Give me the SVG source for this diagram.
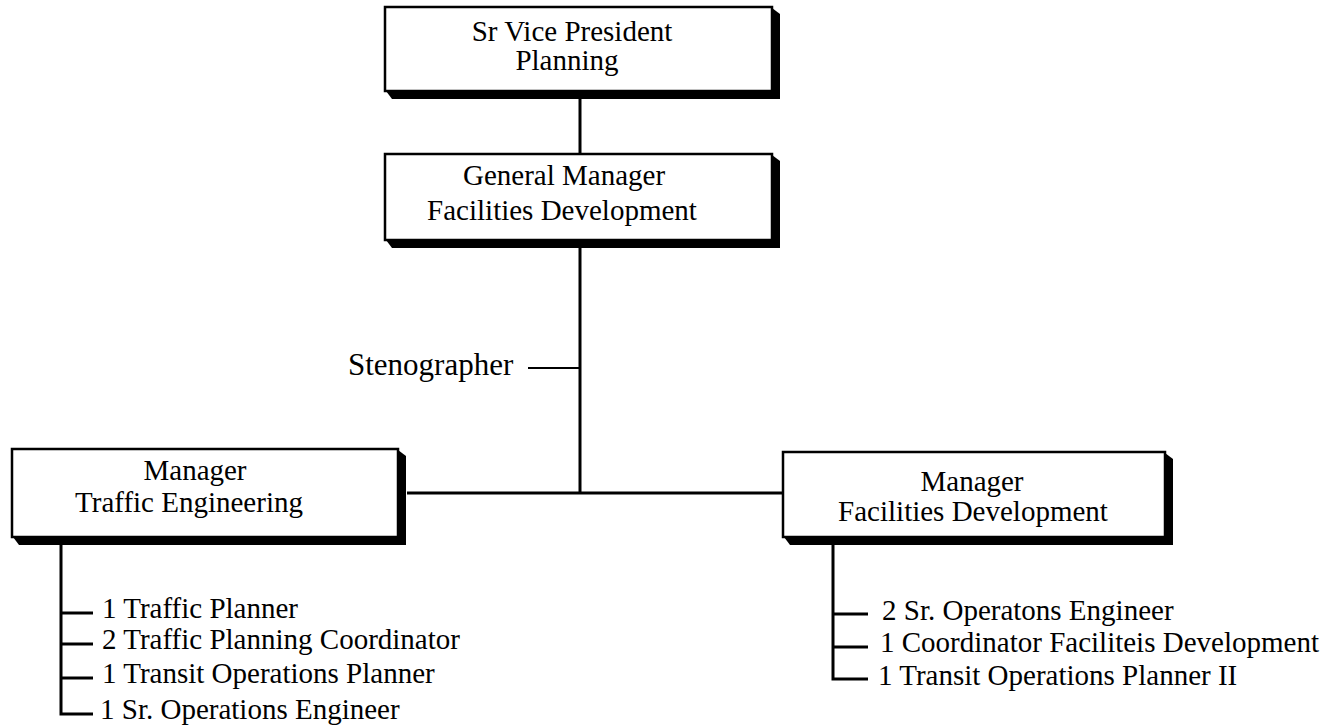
<svg xmlns="http://www.w3.org/2000/svg" width="1334" height="726" viewBox="0 0 1334 726">
<style>
.box{fill:#fff;stroke:#000;stroke-width:2.5}
.shadow{fill:#000;stroke:none}
.conn{fill:none;stroke:#000;stroke-width:3}
.thin{fill:none;stroke:#000;stroke-width:2}
text{font-family:"Liberation Serif","Times New Roman",serif;font-size:29px;fill:#000}
.c{text-anchor:middle}
</style>
<rect width="1334" height="726" fill="#fff"/>
<g id="connectors">
<line class="conn" x1="580" y1="99" x2="580" y2="155"/>
<line class="conn" x1="580" y1="248" x2="580" y2="493"/>
<line class="thin" x1="528" y1="368" x2="580" y2="368"/>
<line class="conn" x1="407" y1="493" x2="783" y2="493"/>
<polyline class="conn" points="61,545 61,714 93,714"/>
<line class="conn" x1="61" y1="613" x2="93" y2="613"/>
<line class="conn" x1="61" y1="644" x2="93" y2="644"/>
<line class="conn" x1="61" y1="678" x2="93" y2="678"/>
<polyline class="conn" points="833,545 833,679 868,679"/>
<line class="conn" x1="833" y1="614" x2="868" y2="614"/>
<line class="conn" x1="833" y1="647" x2="868" y2="647"/>
</g>
<g id="svp">
<polygon class="shadow" points="772,8 780,14 780,99 392,99 386,91"/>
<rect class="box" x="385" y="7" width="387" height="84"/>
<text class="c" x="572" y="41">Sr Vice President</text>
<text class="c" x="567" y="70">Planning</text>
</g>
<g id="gm">
<polygon class="shadow" points="772,155 780,161 780,248 392,248 386,240"/>
<rect class="box" x="385" y="154" width="387" height="86"/>
<text class="c" x="564" y="185">General Manager</text>
<text class="c" x="562" y="220">Facilities Development</text>
</g>
<g id="steno">
<text x="348" y="375" style="font-size:31px">Stenographer</text>
</g>
<g id="mgr-traffic">
<polygon class="shadow" points="398,450 406,456 406,545 19,545 13,537"/>
<rect class="box" x="12" y="449" width="386" height="88"/>
<text class="c" x="195" y="480">Manager</text>
<text class="c" x="189" y="512">Traffic Engineering</text>
</g>
<g id="mgr-facilities">
<polygon class="shadow" points="1165,453 1173,459 1173,545 790,545 784,537"/>
<rect class="box" x="783" y="452" width="382" height="85"/>
<text class="c" x="972" y="491">Manager</text>
<text class="c" x="973" y="521">Facilities Development</text>
</g>
<g id="traffic-staff">
<text x="102" y="618">1 Traffic Planner</text>
<text x="102" y="649">2 Traffic Planning Coordinator</text>
<text x="102" y="683">1 Transit Operations Planner</text>
<text x="100" y="719">1 Sr. Operations Engineer</text>
</g>
<g id="facilities-staff">
<text x="882" y="620">2 Sr. Operatons Engineer</text>
<text x="880" y="652">1 Coordinator Faciliteis Development</text>
<text x="878" y="685">1 Transit Operations Planner II</text>
</g>
</svg>
